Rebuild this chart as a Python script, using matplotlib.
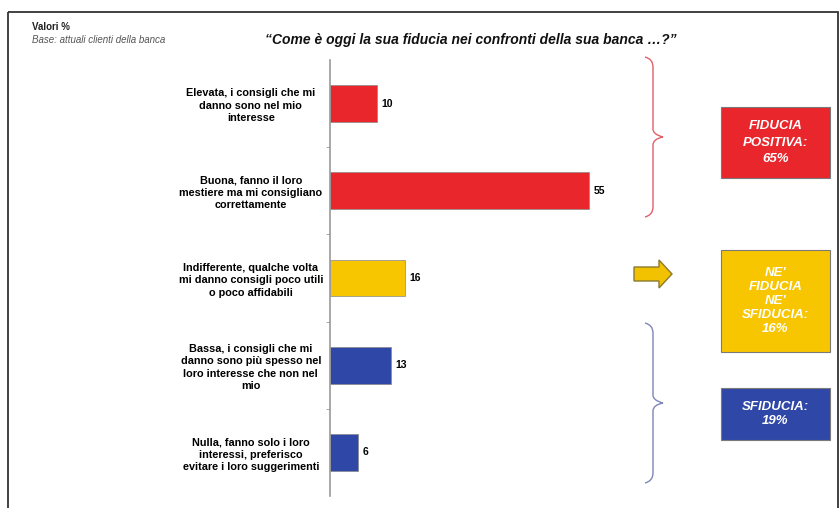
# Fiducia nella propria banca - barre orizzontali con riquadri di sintesi
import numpy as np
import matplotlib.pyplot as plt
from matplotlib.path import Path
from matplotlib.patches import PathPatch, Rectangle, Polygon

plt.rcParams['font.family'] = ['Liberation Sans', 'DejaVu Sans']

# Dati
categorie = ["Elevata, i consigli che mi\ndanno sono nel mio\ninteresse",
             "Buona, fanno il loro\nmestiere ma mi consigliano\ncorrettamente",
             "Indifferente, qualche volta\nmi danno consigli poco utili\no poco affidabili",
             "Bassa, i consigli che mi\ndanno sono più spesso nel\nloro interesse che non nel\nmio",
             "Nulla, fanno solo i loro\ninteressi, preferisco\nevitare i loro suggerimenti"]
valori = [10, 55, 16, 13, 6]
gruppo = ["pos", "pos", "neu", "neg", "neg"]
sintesi_testi = ["FIDUCIA\nPOSITIVA:\n65%", "NE'\nFIDUCIA\nNE'\nSFIDUCIA:\n16%", "SFIDUCIA:\n19%"]

colori = {"pos": "#e8262b", "neu": "#f7c600", "neg": "#2f47a6"}

W, H = 840, 508
fig = plt.figure(figsize=(W / 100, H / 100), dpi=100)

# livello di sfondo in pixel
bg = fig.add_axes([0, 0, 1, 1])
bg.set_xlim(0, W)
bg.set_ylim(H, 0)
bg.axis("off")

# cornice
bg.add_patch(Rectangle((8, 12), 830, 510, fill=False, edgecolor="#333333", lw=1.3))

bg.text(32, 27, "Valori %", fontsize=7, fontweight="bold", color="#222222", va="center")
bg.text(32, 40, "Base: attuali clienti della banca", fontsize=7, style="italic",
        color="#555555", va="center")
bg.text(471, 40, "\u201cCome è oggi la sua fiducia nei confronti della sua banca \u2026?\u201d",
        fontsize=10, fontweight="bold", style="italic", ha="center", va="center", color="#111111")

# grafico a barre
ax = fig.add_axes([330 / W, (H - 496) / H, 283 / W, (496 - 60) / H])
ypos = np.arange(len(valori))
ax.barh(ypos, valori, height=0.42, color=[colori[g] for g in gruppo],
        edgecolor="#888888", linewidth=0.5)
for y, v in zip(ypos, valori):
    ax.text(v + 0.9, y, str(v), fontsize=7.5, fontweight="bold", va="center", ha="left")
ax.set_xlim(0, 60)
ax.set_ylim(len(valori) - 0.5, -0.5)
ax.set_yticks(ypos)
ax.set_yticklabels(categorie, fontsize=7.8, fontweight="bold", ha="center",
                   linespacing=1.3)
ax.tick_params(axis="y", length=0, pad=57)
ax.set_yticks(ypos[:-1] + 0.5, minor=True)
ax.tick_params(axis="y", which="minor", length=3, color="#999999", direction="out")
ax.set_xticks([])
for s in ["top", "right", "bottom"]:
    ax.spines[s].set_visible(False)
ax.spines["left"].set_color("#999999")
ax.spines["left"].set_linewidth(1.2)


def graffa(x, y0, y1, punta, colore):
    ym = (y0 + y1) / 2
    verts = [(x - 8, y0), (x, y0 + 2), (x, y0 + 10),
             (x, ym - 8),
             (x, ym - 2), (punta, ym), (punta, ym),
             (x, ym + 2), (x, ym + 8),
             (x, y1 - 10),
             (x, y1 - 2), (x - 8, y1)]
    codes = [Path.MOVETO, Path.CURVE3, Path.CURVE3,
             Path.LINETO,
             Path.CURVE4, Path.CURVE4, Path.CURVE4,
             Path.CURVE3, Path.CURVE3,
             Path.LINETO,
             Path.CURVE3, Path.CURVE3]
    bg.add_patch(PathPatch(Path(verts, codes), fill=False, edgecolor=colore, lw=1.0))


graffa(653, 57, 217, 663, "#e0606a")
graffa(653, 323, 483, 663, "#7f86b8")

# freccia gialla
bg.add_patch(Polygon([(634, 267), (659, 267), (659, 260), (672, 274),
                      (659, 288), (659, 281), (634, 281)],
                     closed=True, facecolor="#f2c200", edgecolor="#8a7a30", lw=1.0))

# riquadri di sintesi
riquadri = [(107, 178, colori["pos"], 1.45), (250, 352, colori["neu"], 1.25),
            (388, 440, colori["neg"], 1.25)]
for (t, b, c, ls), testo in zip(riquadri, sintesi_testi):
    bg.add_patch(Rectangle((721, t), 109, b - t, facecolor=c, edgecolor="#7a7a7a", lw=0.8))
    bg.text(775.5, (t + b) / 2, testo, fontsize=9.5, fontweight="bold", style="italic",
            color="white", ha="center", va="center", linespacing=ls)

fig.savefig("out.png", dpi=100)
